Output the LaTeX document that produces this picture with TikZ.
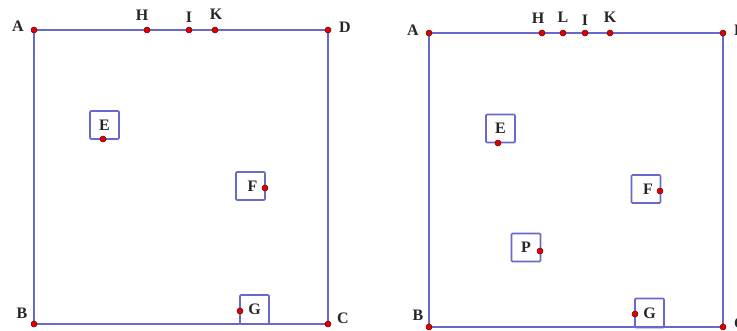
\documentclass[tikz,border=0pt]{standalone}
\usepackage{fontspec}
\setmainfont{Liberation Serif}
\definecolor{edge}{RGB}{105,105,205}
\definecolor{dotred}{RGB}{225,0,0}
\definecolor{dotrim}{RGB}{110,0,0}
\begin{document}
\begin{tikzpicture}[x=1pt,y=-1pt,
  side/.style={draw=edge,line width=2.1pt},
  lbl/.style={font=\fontsize{16}{16}\selectfont\bfseries,text=black!85,inner sep=0pt},
  tag/.style={draw=edge,line width=1.6pt,rounded corners=1pt,minimum width=29pt,minimum height=28pt,inner sep=0pt,font=\fontsize{16}{16}\selectfont\bfseries,text=black!85},
  pt/.style={fill=dotred,draw=dotrim,line width=0.5pt}]
\useasboundingbox (0,0) rectangle (737,330);
\clip (0,0) rectangle (737,330);
% ---------- left figure ----------
\coordinate (A1) at (34,30);
\coordinate (D1) at (328,30);
\coordinate (B1) at (34,324);
\coordinate (C1) at (328,324);
\coordinate (H1) at (147,30);
\coordinate (I1) at (189,30);
\coordinate (K1) at (215,30);
\draw[side] (A1) -- (D1) -- (C1) -- (B1) -- cycle;
\node[tag] (boxE1) at (104.5,125) {\raisebox{-2pt}{E}};
\node[tag] (boxF1) at (250.5,186) {\hspace*{4pt}\raisebox{-2pt}{F}};
\node[tag,minimum height=29pt] (boxG1) at (254.5,309.5) {\raisebox{-2pt}{G}};
\coordinate (E1) at (103,139);
\coordinate (F1) at (265,188);
\coordinate (G1) at (240,311);
\foreach \p in {A1,D1,B1,C1,H1,I1,K1,E1,F1,G1} \fill[pt] (\p) circle (3pt);
\node[lbl] (lA1) at (18,26) {A};
\node[lbl] (lH1) at (142,15) {H};
\node[lbl] (lI1) at (189,17) {I};
\node[lbl] (lK1) at (216,14) {K};
\node[lbl] (lD1) at (345,27) {D};
\node[lbl] (lB1) at (22,313) {B};
\node[lbl] (lC1) at (343,318) {C};
% ---------- right figure ----------
\coordinate (A2) at (429,33);
\coordinate (D2) at (723,33);
\coordinate (B2) at (429,327);
\coordinate (C2) at (723,327);
\coordinate (H2) at (542,33);
\coordinate (L2) at (563,33);
\coordinate (I2) at (585,33);
\coordinate (K2) at (610,33);
\draw[side] (A2) -- (D2) -- (C2) -- (B2) -- cycle;
\node[tag] (boxE2) at (500.5,128.5) {\raisebox{-2pt}{E}};
\node[tag] (boxF2) at (646,189) {\hspace*{4pt}\raisebox{-2pt}{F}};
\node[tag] (boxP2) at (526,247.5) {\raisebox{-2pt}{P}};
\node[tag,minimum height=29pt] (boxG2) at (649.5,313) {\raisebox{-2pt}{G}};
\coordinate (E2) at (498,143);
\coordinate (F2) at (660,191);
\coordinate (P2) at (540,251);
\coordinate (G2) at (635,314);
\foreach \p in {A2,D2,B2,C2,H2,L2,I2,K2,E2,F2,P2,G2} \fill[pt] (\p) circle (3pt);
\node[lbl] (lA2) at (413,30) {A};
\node[lbl] (lH2) at (538,18) {H};
\node[lbl] (lL2) at (563,17) {L};
\node[lbl] (lI2) at (585,20) {I};
\node[lbl] (lK2) at (610,17) {K};
\node[lbl] (lD2) at (740,30) {D};
\node[lbl] (lB2) at (418,315) {B};
\node[lbl] (lC2) at (740,323) {C};
\end{tikzpicture}
\end{document}
